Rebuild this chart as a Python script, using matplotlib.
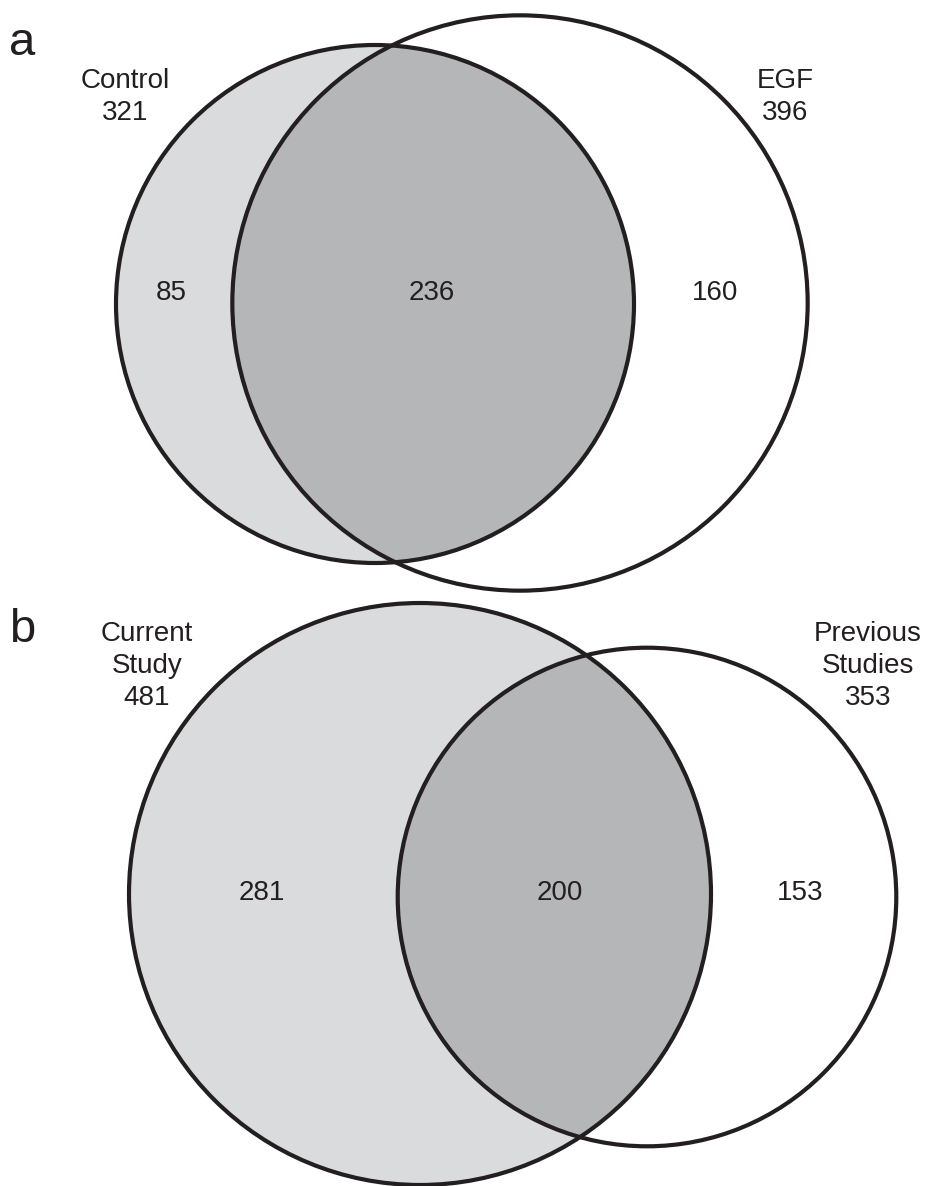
# venn_overlap.py — iki panel Venn (a: Control/EGF, b: Current/Previous)
import numpy as np
import matplotlib.pyplot as plt
from matplotlib.patches import Circle

# ----- veriler
panel_tags = ["a", "b"]

names_a  = ["Control", "EGF"]
totals_a = [321, 396]
parts_a  = [85, 236, 160]   # sadece sol, kesişim, sadece sağ

names_b  = ["Current\nStudy", "Previous\nStudies"]
totals_b = [481, 353]
parts_b  = [281, 200, 153]

# ----- yerleşim (piksel, y aşağı)
W, H = 927, 1186
LIGHT = "#dadbdd"
DARK  = "#b5b6b8"
EDGE  = "#231f20"
FONT  = "Liberation Sans"

layout = {
    # merkezler, alan ~ toplam (r = k*sqrt(n))
    "a": dict(c1=(375, 304), c2=(520, 303), k=259/np.sqrt(321),
              tag=(22, 43), name_y=68, part_y=293,
              name_x=(125, 785), part_x=(171, 432, 715)),
    "b": dict(c1=(420, 894), c2=(647, 897), k=291/np.sqrt(481),
              tag=(22, 630), name_y=621, part_y=893,
              name_x=(147, 868), part_x=(262, 560, 800)),
}

fig = plt.figure(figsize=(W/100, H/100), dpi=100)
ax = fig.add_axes([0, 0, 1, 1])
ax.set_xlim(0, W); ax.set_ylim(H, 0)
ax.set_aspect("equal"); ax.axis("off")

def venn(tag, names, totals, parts):
    L = layout[tag]
    r1 = L["k"]*np.sqrt(totals[0])
    r2 = L["k"]*np.sqrt(totals[1])
    # sol daire dolgu
    ax.add_patch(Circle(L["c1"], r1, fc=LIGHT, ec="none", zorder=1))
    # kesişim: sağ daire sol daireye kırpılır
    clip = Circle(L["c1"], r1, transform=ax.transData, fc="none", ec="none")
    ax.add_patch(clip)
    inter = Circle(L["c2"], r2, fc=DARK, ec="none", zorder=2)
    ax.add_patch(inter); inter.set_clip_path(clip)
    # kenarlar
    for c, r in [(L["c1"], r1), (L["c2"], r2)]:
        ax.add_patch(Circle(c, r, fc="none", ec=EDGE, lw=3.0, zorder=3))
    # yazılar
    ax.text(*L["tag"], tag, fontsize=34, family=FONT, color=EDGE,
            ha="center", va="center")
    for x, nm, tot in zip(L["name_x"], names, totals):
        ax.text(x, L["name_y"], f"{nm}\n{tot}", fontsize=20, family=FONT,
                color=EDGE, ha="center", va="top", linespacing=1.3)
    for x, v in zip(L["part_x"], parts):
        ax.text(x, L["part_y"], str(v), fontsize=20, family=FONT, color=EDGE,
                ha="center", va="center", zorder=4)

venn("a", names_a, totals_a, parts_a)
venn("b", names_b, totals_b, parts_b)

fig.savefig("out.png", dpi=100, facecolor="white")
